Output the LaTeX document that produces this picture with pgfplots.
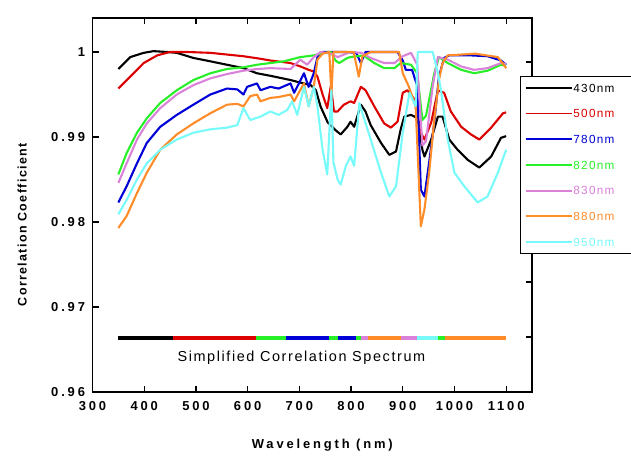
\documentclass[border=0pt]{standalone}
\usepackage{fontspec}
\usepackage{pgfplots}
\pgfplotsset{compat=1.18}
\setmainfont{Liberation Sans}
\newfontfamily\tickfont[LetterSpace=22]{Liberation Sans}
\newfontfamily\legfont[LetterSpace=11]{Liberation Sans}

\definecolor{c430}{RGB}{0,0,0}
\definecolor{c500}{RGB}{220,0,0}
\definecolor{c780}{RGB}{0,0,215}
\definecolor{c820}{RGB}{40,240,40}
\definecolor{c830}{RGB}{218,130,218}
\definecolor{c880}{RGB}{255,140,40}
\definecolor{c950}{RGB}{120,250,250}

\begin{document}
\begin{tikzpicture}[x=1bp,y=1bp]
\useasboundingbox (0,0) rectangle (631,460);

% right-hand axis: only its ticks
\begin{axis}[at={(92.5bp,68bp)}, anchor=south west, scale only axis,
    width=439.5bp, height=374bp,
    xmin=300, xmax=1150, ymin=0, ymax=6.8,
    axis x line=none, axis y line*=right,
    ytick={1,2,3,4,5,6}, yticklabels={},
    tick align=inside, major tick length=6bp,
    tick style={black, line width=1.2bp},
    axis line style={line width=1.2bp}]
\end{axis}

\begin{axis}[at={(92.5bp,68bp)}, anchor=south west, scale only axis,
    width=439.5bp, height=374bp,
    xmin=300, xmax=1150, ymin=0.96, ymax=1.004,
    xtick={300,400,500,600,700,800,900,1000,1100},
    xticklabels={300,400,500,600,700,800,900,1000,1100},
    ytick={0.96,0.97,0.98,0.99,1},
    yticklabels={0.96,0.97,0.98,0.99,1},
    xtick pos=both, ytick pos=left,
    tick align=inside, major tick length=6bp,
    tick style={black, line width=1.2bp},
    axis line style={line width=1.2bp},
    ticklabel style={font=\tickfont\bfseries\fontsize{13}{13}\selectfont},
    xticklabel style={yshift=-6bp},
    yticklabel style={xshift=-4bp},
    xlabel={Wavelength (nm)},
    ylabel={Correlation Coefficient},
    every axis x label/.style={at={(axis description cs:0.523,-0.142)}, anchor=center,
        font=\tickfont\bfseries\fontsize{13}{13}\selectfont},
    every axis y label/.style={at={(axis description cs:-0.160,0.447)}, anchor=center, rotate=90,
        font=\legfont\bfseries\fontsize{12.5}{12.5}\selectfont},
    legend style={at={(axis description cs:0.9727,0.845)}, anchor=north west,
        draw=black, line width=1.2bp, fill=white,
        font=\legfont\fontsize{11.8}{11.8}\selectfont,
        row sep=15.2bp, inner ysep=6bp, inner xsep=4bp,
        nodes={inner sep=1bp, text height=8.5bp, text depth=0bp}},
    legend cell align=left,
    legend image code/.code={\draw[#1, line width=1.8bp] (0bp,0bp) -- (46bp,0bp);},
    every axis plot/.append style={line width=2.1bp, line join=round},
]
\addplot[c430] coordinates {
(350,0.9980) (373,0.9994) (399,0.9999) (418,1.0001) (444,1.0000) (463,0.9999)
(495,0.9993) (528,0.9989) (560,0.9985) (592,0.9981) (618,0.9975) (644,0.9972)
(683,0.9967) (702,0.9964) (722,0.9961) (732,0.9955) (741,0.9936) (755,0.9917)
(770,0.9908) (780,0.9903) (793,0.9912) (799,0.9918) (806,0.9912) (819,0.9938)
(828,0.9930) (838,0.9914) (858,0.9893) (874,0.9879) (887,0.9883) (896,0.9909)
(903,0.9924) (916,0.9926) (929,0.9922) (938,0.9885) (942,0.9877) (955,0.9897)
(968,0.9924) (977,0.9924) (990,0.9897) (1006,0.9885) (1026,0.9873) (1048,0.9864)
(1071,0.9877) (1090,0.9899) (1100,0.9901)
};
\addlegendentry{\makebox[58bp][l]{\textcolor{c430}{430nm}}}
\addplot[c500] coordinates {
(350,0.9957) (373,0.9971) (399,0.9987) (425,0.9996) (450,1.0000) (483,1.0000)
(528,0.9999) (560,0.9997) (592,0.9995) (625,0.9992) (644,0.9990) (683,0.9987)
(702,0.9983) (718,0.9979) (728,0.9977) (735,0.9971) (745,0.9950) (754,0.9934)
(761,0.9960) (767,0.9930) (774,0.9930) (786,0.9938) (799,0.9942) (806,0.9940)
(819,0.9959) (828,0.9955) (845,0.9936) (864,0.9916) (877,0.9911) (890,0.9918)
(900,0.9952) (909,0.9955) (922,0.9945) (935,0.9905) (942,0.9897) (955,0.9917)
(968,0.9955) (980,0.9952) (993,0.9930) (1013,0.9912) (1032,0.9903) (1048,0.9897)
(1071,0.9911) (1094,0.9928) (1100,0.9929)
};
\addlegendentry{\makebox[58bp][l]{\textcolor{c500}{500nm}}}
\addplot[c780] coordinates {
(350,0.9823) (366,0.9842) (386,0.9869) (405,0.9893) (431,0.9912) (463,0.9926)
(495,0.9938) (528,0.9950) (560,0.9957) (580,0.9956) (592,0.9950) (599,0.9959)
(618,0.9963) (625,0.9955) (644,0.9959) (660,0.9957) (683,0.9963) (690,0.9952)
(709,0.9975) (718,0.9959) (728,0.9975) (735,0.9994) (745,1.0000) (790,1.0000)
(810,0.9999) (819,0.9987) (828,1.0000) (890,1.0000) (900,0.9990) (906,0.9979)
(918,0.9979) (928,0.9960) (935,0.9838) (942,0.9830) (951,0.9870) (961,0.9917)
(970,0.9971) (980,0.9993) (990,0.9996) (1032,0.9996) (1064,0.9995) (1090,0.9990)
(1100,0.9985)
};
\addlegendentry{\makebox[58bp][l]{\textcolor{c780}{780nm}}}
\addplot[c820] coordinates {
(350,0.9856) (366,0.9881) (386,0.9905) (405,0.9922) (431,0.9940) (463,0.9955)
(495,0.9967) (528,0.9975) (560,0.9980) (592,0.9982) (618,0.9985) (644,0.9987)
(670,0.9989) (702,0.9994) (728,0.9996) (741,0.9998) (761,1.0000) (770,0.9990)
(777,0.9987) (793,0.9993) (799,0.9994) (824,0.9996) (845,0.9987) (864,0.9981)
(884,0.9981) (896,0.9987) (916,0.9985) (928,0.9975) (938,0.9920) (945,0.9925)
(961,0.9975) (970,0.9994) (987,0.9987) (1013,0.9979) (1038,0.9975) (1064,0.9978)
(1090,0.9985) (1100,0.9984)
};
\addlegendentry{\makebox[58bp][l]{\textcolor{c820}{820nm}}}
\addplot[c830] coordinates {
(350,0.9846) (366,0.9869) (386,0.9897) (405,0.9916) (431,0.9934) (463,0.9950)
(495,0.9961) (528,0.9969) (560,0.9974) (592,0.9978) (618,0.9980) (644,0.9981)
(683,0.9980) (702,0.9991) (715,0.9985) (728,0.9994) (741,1.0000) (761,0.9998)
(774,0.9994) (799,1.0000) (820,0.9999) (838,0.9993) (864,0.9987) (884,0.9987)
(900,0.9995) (916,0.9999) (928,0.9985) (938,0.9890) (945,0.9895) (958,0.9960)
(968,0.9994) (987,0.9991) (1013,0.9983) (1038,0.9979) (1064,0.9981) (1090,0.9987)
(1100,0.9986)
};
\addlegendentry{\makebox[58bp][l]{\textcolor{c830}{830nm}}}
\addplot[c880] coordinates {
(350,0.9793) (366,0.9807) (386,0.9834) (405,0.9858) (431,0.9885) (463,0.9903)
(495,0.9916) (528,0.9928) (560,0.9938) (580,0.9939) (592,0.9936) (605,0.9948)
(618,0.9950) (625,0.9942) (644,0.9946) (660,0.9947) (683,0.9950) (690,0.9942)
(709,0.9963) (718,0.9936) (728,0.9959) (735,0.9991) (745,0.9998) (758,1.0000)
(762,0.9950) (766,1.0000) (805,1.0000) (815,0.9971) (822,0.9995) (838,1.0000)
(893,1.0000) (900,0.9975) (912,0.9959) (925,0.9936) (935,0.9795) (942,0.9815)
(951,0.9858) (961,0.9920) (970,0.9967) (977,0.9987) (987,0.9996) (1040,0.9998)
(1084,0.9994) (1100,0.9981)
};
\addlegendentry{\makebox[58bp][l]{\textcolor{c880}{880nm}}}
\addplot[c950] coordinates {
(350,0.9809) (366,0.9826) (386,0.9850) (405,0.9869) (431,0.9885) (463,0.9897)
(495,0.9905) (528,0.9909) (560,0.9911) (580,0.9914) (592,0.9934) (605,0.9920)
(625,0.9924) (644,0.9930) (660,0.9926) (677,0.9932) (686,0.9942) (696,0.9926)
(709,0.9959) (718,0.9936) (728,0.9959) (735,0.9936) (745,0.9885) (754,0.9856)
(762,0.9955) (766,0.9870) (774,0.9850) (780,0.9844) (790,0.9866) (799,0.9877)
(806,0.9866) (816,0.9940) (822,0.9928) (838,0.9897) (858,0.9858) (874,0.9830)
(887,0.9842) (900,0.9905) (913,0.9952) (925,0.9936) (929,1.0000) (958,1.0000)
(968,0.9975) (974,0.9955) (987,0.9897) (1000,0.9858) (1019,0.9842) (1045,0.9823)
(1064,0.9830) (1084,0.9858) (1100,0.9885)
};
\addlegendentry{\makebox[58bp][l]{\textcolor{c950}{950nm}}}

% simplified correlation spectrum bar
\addplot[c430, line width=4bp, line cap=butt, forget plot] coordinates {(350,0.96635) (455,0.96635)};
\addplot[c500, line width=4bp, line cap=butt, forget plot] coordinates {(455,0.96635) (617,0.96635)};
\addplot[c820, line width=4bp, line cap=butt, forget plot] coordinates {(617,0.96635) (674,0.96635)};
\addplot[c780, line width=4bp, line cap=butt, forget plot] coordinates {(674,0.96635) (757,0.96635)};
\addplot[c820, line width=4bp, line cap=butt, forget plot] coordinates {(757,0.96635) (774,0.96635)};
\addplot[c780, line width=4bp, line cap=butt, forget plot] coordinates {(774,0.96635) (810,0.96635)};
\addplot[c820, line width=4bp, line cap=butt, forget plot] coordinates {(810,0.96635) (819,0.96635)};
\addplot[c830, line width=4bp, line cap=butt, forget plot] coordinates {(819,0.96635) (832,0.96635)};
\addplot[c880, line width=4bp, line cap=butt, forget plot] coordinates {(832,0.96635) (897,0.96635)};
\addplot[c830, line width=4bp, line cap=butt, forget plot] coordinates {(897,0.96635) (928,0.96635)};
\addplot[c950, line width=4bp, line cap=butt, forget plot] coordinates {(928,0.96635) (968,0.96635)};
\addplot[c820, line width=4bp, line cap=butt, forget plot] coordinates {(968,0.96635) (981,0.96635)};
\addplot[c880, line width=4bp, line cap=butt, forget plot] coordinates {(981,0.96635) (1100,0.96635)};

\node[font=\legfont\fontsize{14.5}{14.5}\selectfont] at (axis cs:704,0.9640) {Simplified Correlation Spectrum};
\end{axis}
\end{tikzpicture}
\end{document}
